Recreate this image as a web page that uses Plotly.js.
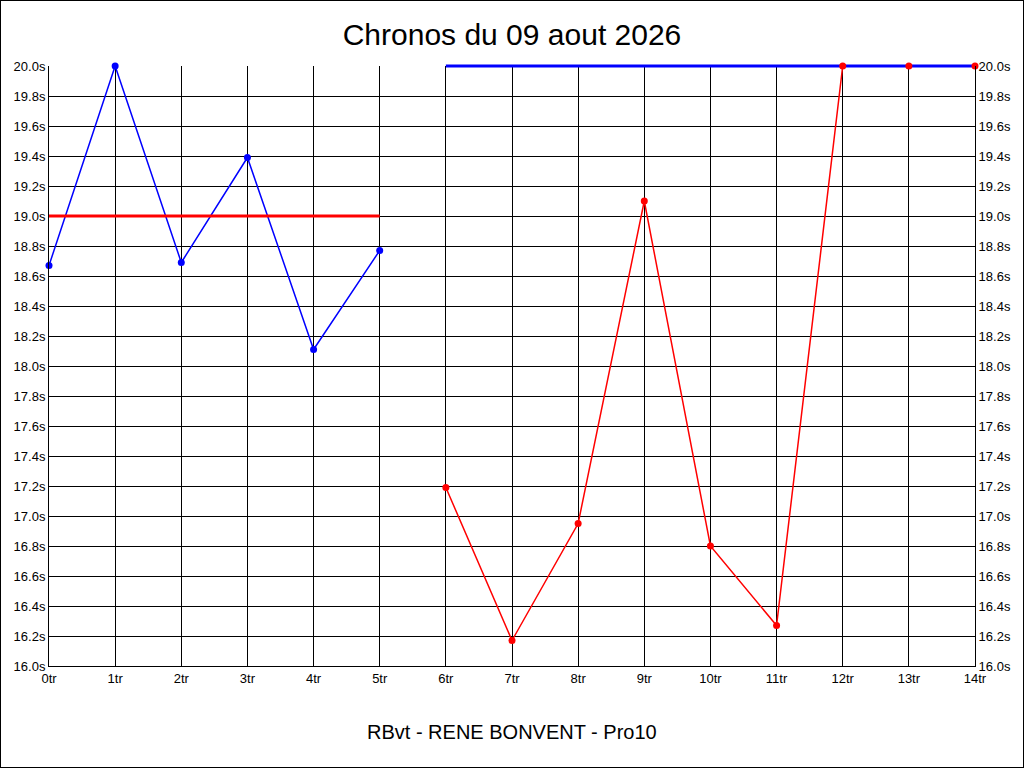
<!DOCTYPE html>
<html>
<head>
<meta charset="utf-8">
<script src="https://cdn.plot.ly/plotly-3.0.1.min.js"></script>
<style>
  body { margin: 0; background: #fff; }
  #chart { width: 1024px; height: 768px; position: relative; }
  #frame { position: absolute; left: 0; top: 0; width: 1022px; height: 766px; border: 1px solid #000; pointer-events: none; }
</style>
</head>
<body>
<div id="chart"></div>
<div id="frame"></div>
<script>
// laps 0..5 (blue) and 6..14 (red), times in seconds
const blueLaps = [0, 1, 2, 3, 4, 5];
const blueTimes = [18.67, 20.0, 18.69, 19.39, 18.11, 18.77];
const redLaps = [6, 7, 8, 9, 10, 11, 12, 13, 14];
const redTimes = [17.19, 16.17, 16.95, 19.1, 16.8, 16.27, 20.0, 20.0, 20.0];

// reference lines
const redRefLaps = [0, 5];
const redRefTimes = [19.0, 19.0];
const blueRefLaps = [6, 14];
const blueRefTimes = [20.0, 20.0];

const font = 'Liberation Sans, Arial, sans-serif';

// draw order: data lines, then reference lines, then the points on top
const traces = [
    {
        x: blueLaps, y: blueTimes, mode: 'lines',
        line: { color: '#0000ff', width: 1.5 }, cliponaxis: false
    },
    {
        x: redLaps, y: redTimes, mode: 'lines',
        line: { color: '#ff0000', width: 1.5 }, cliponaxis: false
    },
    {
        x: redRefLaps, y: redRefTimes, mode: 'lines',
        line: { color: '#ff0000', width: 3 }, cliponaxis: false
    },
    {
        x: blueRefLaps, y: blueRefTimes, mode: 'lines',
        line: { color: '#0000ff', width: 3 }, cliponaxis: false
    },
    {
        x: blueLaps, y: blueTimes, mode: 'markers',
        marker: { color: '#0000ff', size: 7 }, cliponaxis: false
    },
    {
        x: redLaps, y: redTimes, mode: 'markers',
        marker: { color: '#ff0000', size: 7 }, cliponaxis: false
    },
    // invisible trace so the right axis gets drawn
    {
        x: [0], y: [16], yaxis: 'y2', mode: 'markers',
        marker: { opacity: 0 }
    }
];

const yCommon = {
    range: [16, 20],
    dtick: 0.2,
    tick0: 16,
    tickformat: '.1f',
    ticksuffix: 's',
    showgrid: true,
    gridcolor: '#000',
    gridwidth: 1,
    zeroline: false,
    ticks: '',
    showline: true,
    linecolor: '#000',
    tickfont: { family: font, size: 13, color: '#000' },
    fixedrange: true
};

const layout = {
    width: 1024,
    height: 768,
    margin: { l: 49, r: 49, t: 66, b: 102 },
    paper_bgcolor: '#fff',
    plot_bgcolor: '#fff',
    showlegend: false,
    title: {
        text: 'Chronos du 09 aout 2026',
        font: { family: font, size: 30, color: '#000' },
        x: 0.5, xanchor: 'center',
        y: 1 - 34 / 768, yanchor: 'middle', yref: 'container'
    },
    xaxis: {
        range: [0, 14],
        dtick: 1,
        tick0: 0,
        ticksuffix: 'tr',
        showgrid: true,
        gridcolor: '#000',
        gridwidth: 1,
        zeroline: false,
        ticks: '',
        showline: true,
        linecolor: '#000',
        tickfont: { family: font, size: 13, color: '#000' },
        fixedrange: true
    },
    yaxis: Object.assign({}, yCommon, { side: 'left' }),
    yaxis2: Object.assign({}, yCommon, { side: 'right', overlaying: 'y', showgrid: false }),
    annotations: [{
        text: 'RBvt - RENE BONVENT - Pro10',
        xref: 'paper', yref: 'paper',
        x: 0.5, y: -66 / 600, xanchor: 'center', yanchor: 'middle',
        showarrow: false,
        font: { family: font, size: 20, color: '#000' }
    }]
};

Plotly.newPlot('chart', traces, layout, { displayModeBar: false, staticPlot: true }).then(function(gd) {
    // let the thick line at 20.0s spill over the plot edge like in the original
    gd.querySelectorAll('.scatterlayer [clip-path]').forEach(function(el) {
        el.removeAttribute('clip-path');
    });
});
</script>
</body>
</html>
